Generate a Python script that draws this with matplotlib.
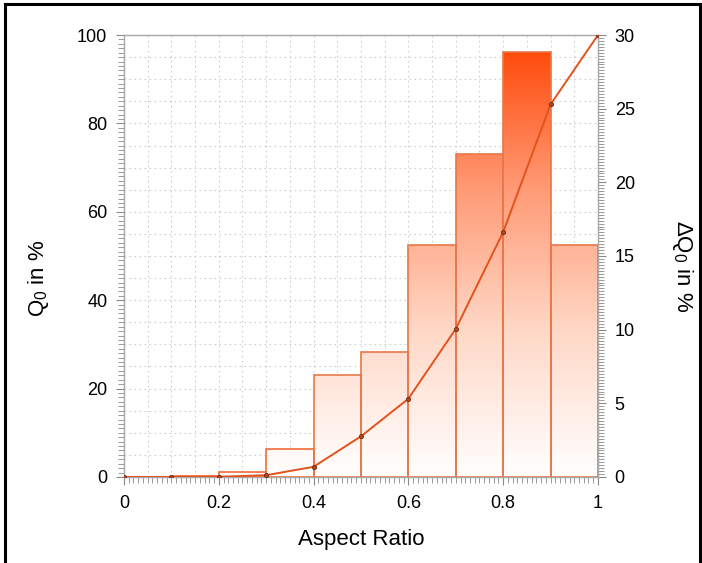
import numpy as np
import matplotlib
matplotlib.use("Agg")
import matplotlib.pyplot as plt
from matplotlib.colors import LinearSegmentedColormap
from matplotlib.ticker import MultipleLocator
from matplotlib.lines import Line2D

plt.rcParams['font.family'] = ['Liberation Sans', 'DejaVu Sans']
plt.rcParams['mathtext.fontset'] = 'custom'
plt.rcParams['mathtext.rm'] = 'Liberation Sans'
plt.rcParams['mathtext.it'] = 'Liberation Sans'

# class edges (aspect ratio) and values
bin_left = [0.0, 0.1, 0.2, 0.3, 0.4, 0.5, 0.6, 0.7, 0.8, 0.9]
dq0 = [0.0, 0.05, 0.37, 1.93, 6.9, 8.5, 15.76, 21.9, 28.85, 15.76]   # right axis, %
x_pts = [0.0, 0.1, 0.2, 0.3, 0.4, 0.5, 0.6, 0.7, 0.8, 0.9, 1.0]
q0 = [0.0, 0.0, 0.05, 0.4, 2.3, 9.2, 17.7, 33.5, 55.4, 84.3, 100.0]  # left axis, %

fig = plt.figure(figsize=(7.02, 5.63), dpi=100)
ax = fig.add_axes([0.1766, 0.1528, 0.6752, 0.7850])
ax2 = ax.twinx()

# bars + background live on ax2, the cumulative line on ax (drawn above)
ax.set_zorder(ax2.get_zorder() + 1)
ax.patch.set_visible(False)
ax2.patch.set_facecolor('#F8F8F8')

ax.set_xlim(0, 1)
ax.set_ylim(0, 100)
ax2.set_ylim(0, 30)

# grid (dotted, light)
for gx in np.arange(0.05, 1.0, 0.05):
    ax2.axvline(gx, color='#CFCFCF', lw=0.8, ls=(0, (1.5, 3)), zorder=1)
for gy in np.arange(1.5, 30, 1.5):
    ax2.axhline(gy, color='#CFCFCF', lw=0.8, ls=(0, (1.5, 3)), zorder=1)

cmap = LinearSegmentedColormap.from_list('grad', ['#FFFFFF', '#FFD9C8', '#FF9C78', '#FF4A0A'])
grad = np.linspace(0, 1, 256).reshape(-1, 1)
bars = ax2.bar(bin_left, dq0, width=0.1, align='edge', facecolor='none',
               edgecolor='#E8774A', linewidth=1.2, zorder=3)
for b in bars:
    im = ax2.imshow(grad, cmap=cmap, origin='lower', aspect='auto',
                    extent=[0, 1, 0, 29.0], zorder=2, interpolation='bilinear')
    im.set_clip_path(b)
for b, h in zip(bars, dq0):
    if h < 3:
        b.set_edgecolor('#F26A3A')
ax2.set_xlim(0, 1)
ax2.set_ylim(0, 30)

ax.plot(x_pts, q0, color='#E4521C', lw=1.4, zorder=5,
        marker='o', ms=3, mfc='#B8461E', mec='#6A2A12', mew=0.6)

# ticks
tick_col = '#8A8A8A'
ax.xaxis.set_major_locator(MultipleLocator(0.2))
ax.xaxis.set_minor_locator(MultipleLocator(0.01))
ax.xaxis.set_major_formatter(plt.FuncFormatter(lambda v, p: '%g' % round(v, 2)))
ax.yaxis.set_major_locator(MultipleLocator(20))
ax.yaxis.set_minor_locator(MultipleLocator(1))
ax2.yaxis.set_major_locator(MultipleLocator(5))
ax2.yaxis.set_minor_locator(MultipleLocator(0.2))

ax.tick_params(axis='x', which='major', length=6, width=0.8, color=tick_col, pad=7, labelsize=13)
ax.tick_params(axis='x', which='minor', length=4, width=0.6, color=tick_col)
ax.tick_params(axis='y', which='major', length=6, width=0.8, color=tick_col, pad=6, labelsize=13)
ax.tick_params(axis='y', which='minor', length=4, width=0.6, color=tick_col)
ax2.tick_params(axis='y', which='major', length=6, width=0.8, color=tick_col, pad=6, labelsize=13)
ax2.tick_params(axis='y', which='minor', length=4, width=0.6, color=tick_col)
ax2.tick_params(axis='x', which='both', bottom=False, labelbottom=False)

for a in (ax, ax2):
    for s in a.spines.values():
        s.set_color('#AAAAAA')
        s.set_linewidth(0.9)

ax.set_xlabel('Aspect Ratio', fontsize=16, labelpad=12)
ax.set_ylabel(r'$\mathrm{Q_0}$ in %', fontsize=16, va='center')
ax.yaxis.set_label_coords(-0.181, 0.45)
ax2.set_ylabel(r'$\Delta\mathrm{Q_0}$ in %', fontsize=16, rotation=270, va='center')
ax2.yaxis.set_label_coords(1.179, 0.477)

# black frame round the figure (left, top, right)
fig.add_artist(Line2D([0.007, 0.007], [0, 0.993], color='black', lw=2.2, transform=fig.transFigure))
fig.add_artist(Line2D([0.007, 0.997], [0.993, 0.993], color='black', lw=2.2, transform=fig.transFigure))
fig.add_artist(Line2D([0.997, 0.997], [0, 0.993], color='black', lw=2.2, transform=fig.transFigure))

fig.savefig('out.png', dpi=100)
